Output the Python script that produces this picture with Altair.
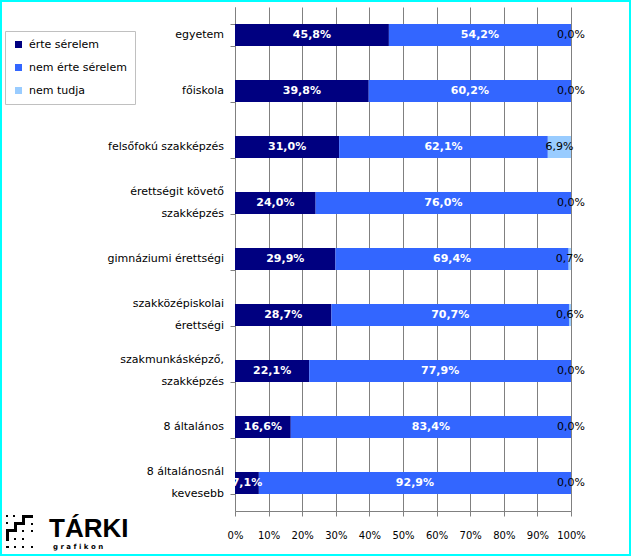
import altair as alt
import pandas as pd

# Educational levels (top to bottom); "|" marks a line break in the label
levels = [
    "egyetem",
    "főiskola",
    "felsőfokú szakképzés",
    "érettségit követő|szakképzés",
    "gimnáziumi érettségi",
    "szakközépiskolai|érettségi",
    "szakmunkásképző,|szakképzés",
    "8 általános",
    "8 általánosnál|kevesebb",
]
series = ["érte sérelem", "nem érte sérelem", "nem tudja"]
erte = [45.8, 39.8, 31.0, 24.0, 29.9, 28.7, 22.1, 16.6, 7.1]
nem_erte = [54.2, 60.2, 62.1, 76.0, 69.4, 70.7, 77.9, 83.4, 92.9]
nem_tudja = [0.0, 0.0, 6.9, 0.0, 0.7, 0.6, 0.0, 0.0, 0.0]
colors = ["#000080", "#3366FF", "#99CCFF"]
x_ticks = list(range(0, 101, 10))

FONT = "DejaVu Sans"

rows = []
for i, lvl in enumerate(levels):
    start = 0.0
    for j, (name, vals) in enumerate(zip(series, [erte, nem_erte, nem_tudja])):
        v = vals[i]
        rows.append({
            "level": lvl,
            "series": name,
            "order": j,
            "value": v,
            "start": start,
            "end": start + v,
            "mid": start + v / 2,
            "label": f"{v:.1f}".replace(".", ",") + "%",
            "inner": j < 2,
        })
        start += v
df = pd.DataFrame(rows)

# category label lines
lab = pd.DataFrame({
    "level": levels,
    "line1": [s.split("|")[0] for s in levels],
    "line2": [s.split("|")[1] if "|" in s else "" for s in levels],
    "multi": ["|" in s for s in levels],
})

W, H = 336, 504
PAD_L, PAD_T = 235, 7
TOTAL_W, TOTAL_H = 631, 556

y_scale = alt.Scale(domain=levels, paddingInner=0.6, paddingOuter=0.3)
x_scale = alt.Scale(domain=[0, 100], nice=False)

y_axis = alt.Axis(
    labels=False,
    tickBand="extent", tickColor="#808080", tickSize=5,
    domainColor="#808080", grid=False,
)
x_axis = alt.Axis(
    values=x_ticks,
    labelExpr="datum.value + '%'",
    labelFont=FONT, labelFontSize=10, labelColor="#000000",
    labelOverlap=False, labelFlush=False,
    labelPadding=14, tickColor="#808080", tickSize=5,
    domainColor="#808080", gridColor="#808080", gridOpacity=1,
)

y_enc = alt.Y("level:N", sort=levels, title=None, scale=y_scale, axis=y_axis)

bars = alt.Chart(df).mark_bar(size=22).encode(
    x=alt.X("start:Q", scale=x_scale, title=None, axis=x_axis),
    x2="end:Q",
    y=y_enc,
    color=alt.Color(
        "series:N",
        scale=alt.Scale(domain=series, range=colors),
        legend=alt.Legend(
            title=None, orient="none", legendX=-230, legendY=24,
            symbolType="square", symbolSize=49, symbolStrokeWidth=0,
            labelFont=FONT, labelFontSize=11, labelColor="#000000",
            rowPadding=11, padding=8, labelOffset=5,
            strokeColor="#C0C0C0", fillColor="#FFFFFF",
        ),
    ),
    order="order:Q",
)

x_mid = alt.X("mid:Q", scale=x_scale, title=None, axis=x_axis)

inner_text = alt.Chart(df).transform_filter("datum.inner").mark_text(
    font=FONT, fontSize=11, fontWeight="bold", color="white"
).encode(x=x_mid, y=y_enc, text="label:N")

outer_text = alt.Chart(df).transform_filter("!datum.inner").mark_text(
    font=FONT, fontSize=11, color="black"
).encode(x=x_mid, y=y_enc, text="label:N")


def cat_labels(field, test, dy):
    return alt.Chart(lab).transform_filter(test).mark_text(
        font=FONT, fontSize=11, color="black", align="right", dy=dy
    ).encode(
        x=alt.value(-11),
        y=y_enc,
        text=f"{field}:N",
    )


labels_single = cat_labels("line1", "!datum.multi", 0)
labels_top = cat_labels("line1", "datum.multi", -11)
labels_bottom = cat_labels("line2", "datum.multi", 11)

one = pd.DataFrame({"k": [0]})

# Cyan frame around the whole picture
frame = alt.Chart(one).mark_rect(
    fill=None, stroke="#00FFFF", strokeWidth=2
).encode(
    x=alt.value(-PAD_L + 1), x2=alt.value(TOTAL_W - PAD_L - 1),
    y=alt.value(-PAD_T + 1), y2=alt.value(TOTAL_H - PAD_T - 1),
)


# TÁRKI grafikon logo (positions in page pixels, shifted to the plot origin)
def px(x):
    return alt.value(x - PAD_L)


def py(y):
    return alt.value(y - PAD_T)


logo_main = alt.Chart(pd.DataFrame({"t": ["TÁRKI"]})).mark_text(
    font="Liberation Sans", fontSize=26, fontWeight="bold", color="black",
    align="left", baseline="alphabetic",
).encode(x=px(49), y=py(537), text="t:N")
logo_sub = alt.Chart(pd.DataFrame({"t": ["g r a f i k o n"]})).mark_text(
    font="DejaVu Sans", fontSize=7, fontWeight="bold", color="black",
    align="left", baseline="alphabetic",
).encode(x=px(53), y=py(549), text="t:N")

# staircase emblem: solid steps plus a few dots
emblem_blocks = [
    (6, 529, 9, 541), (6, 529, 17, 532), (14, 522, 17, 532),
    (14, 522, 25, 525), (22, 515, 25, 525), (22, 515, 33, 518),
    (6, 515, 8, 517), (13, 515, 15, 517), (6, 522, 8, 524),
    (31, 523, 33, 525), (22, 530, 24, 532), (31, 530, 33, 532),
    (14, 546, 16, 548), (22, 546, 24, 548), (31, 546, 33, 548),
    (6, 546, 9, 548), (14, 538, 16, 540), (22, 538, 24, 540),
]
emblem = [
    alt.Chart(one).mark_rect(color="black").encode(
        x=px(a), x2=px(c), y=py(b), y2=py(d)
    )
    for a, b, c, d in emblem_blocks
]

chart = alt.layer(
    bars, inner_text, outer_text, labels_single, labels_top, labels_bottom,
    frame, logo_main, logo_sub, *emblem,
).properties(
    width=W, height=H,
    autosize=alt.AutoSizeParams(type="none"),
    padding={"left": PAD_L, "top": PAD_T, "right": TOTAL_W - PAD_L - W, "bottom": TOTAL_H - PAD_T - H},
    background="white",
).configure_view(stroke=None).configure_axis(labelOverlap=False)

chart.save("out.html", embed_options={"renderer": "svg", "actions": False})
